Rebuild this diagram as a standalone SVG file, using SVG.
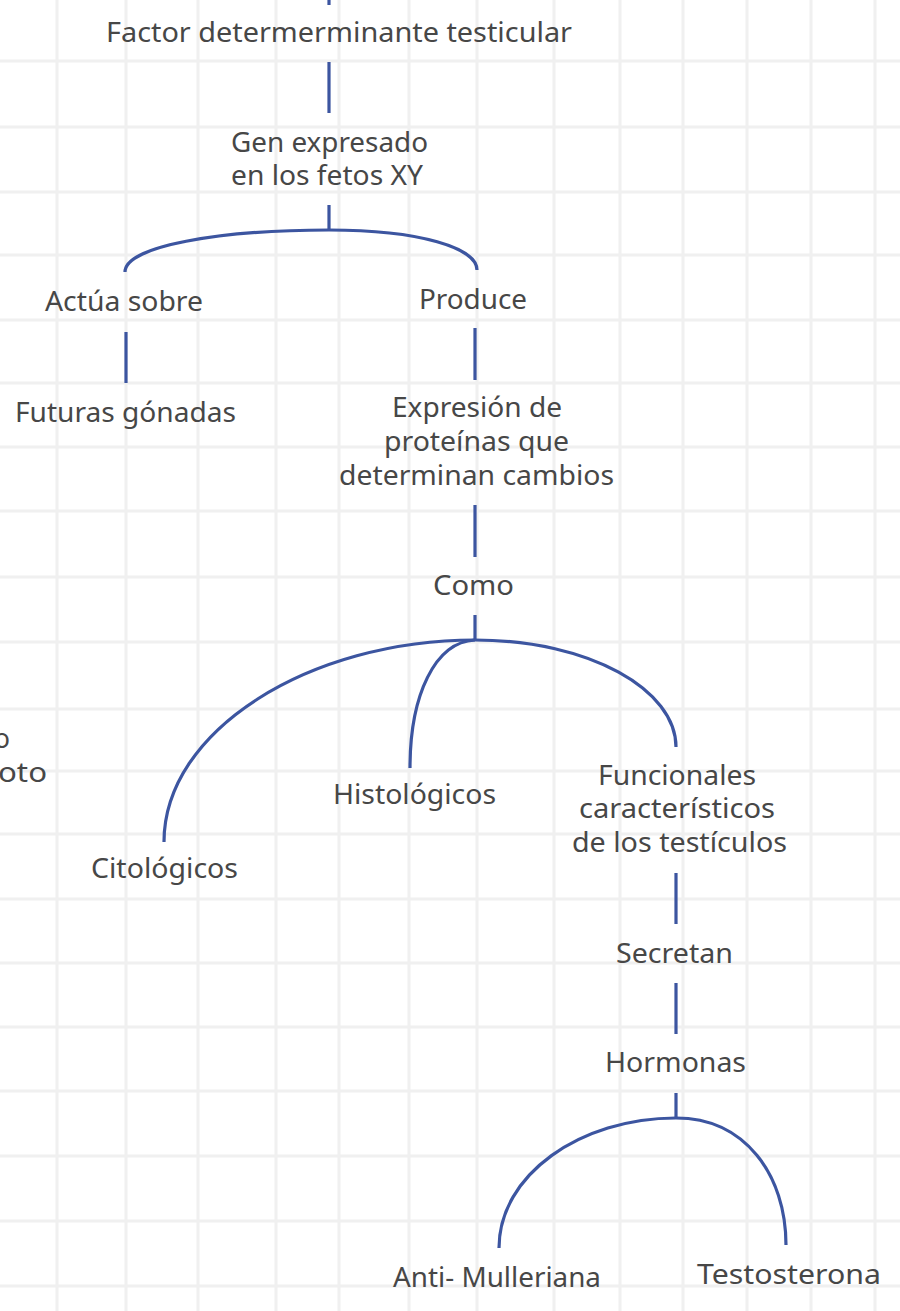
<svg xmlns="http://www.w3.org/2000/svg" width="900" height="1311" viewBox="0 0 900 1311">
<style>
.grid line{stroke:#f0f0f0;stroke-width:3}
.conn path{fill:none;stroke:#3c55a0;stroke-width:3.2}
text{font-family:"Noto Sans","Liberation Sans",sans-serif;font-size:27px;fill:#474747}
</style>
<rect width="900" height="1311" fill="#ffffff"/>
<g class="grid">
<line x1="57" y1="0" x2="57" y2="1311"/><line x1="126" y1="0" x2="126" y2="1311"/><line x1="198" y1="0" x2="198" y2="1311"/><line x1="276" y1="0" x2="276" y2="1311"/><line x1="339" y1="0" x2="339" y2="1311"/><line x1="409" y1="0" x2="409" y2="1311"/><line x1="477" y1="0" x2="477" y2="1311"/><line x1="554" y1="0" x2="554" y2="1311"/><line x1="620" y1="0" x2="620" y2="1311"/><line x1="683" y1="0" x2="683" y2="1311"/><line x1="747" y1="0" x2="747" y2="1311"/><line x1="811" y1="0" x2="811" y2="1311"/><line x1="875" y1="0" x2="875" y2="1311"/>
<line x1="0" y1="61" x2="900" y2="61"/><line x1="0" y1="127" x2="900" y2="127"/><line x1="0" y1="192" x2="900" y2="192"/><line x1="0" y1="255" x2="900" y2="255"/><line x1="0" y1="320" x2="900" y2="320"/><line x1="0" y1="383" x2="900" y2="383"/><line x1="0" y1="447" x2="900" y2="447"/><line x1="0" y1="511" x2="900" y2="511"/><line x1="0" y1="577" x2="900" y2="577"/><line x1="0" y1="642" x2="900" y2="642"/><line x1="0" y1="709" x2="900" y2="709"/><line x1="0" y1="771" x2="900" y2="771"/><line x1="0" y1="834" x2="900" y2="834"/><line x1="0" y1="899" x2="900" y2="899"/><line x1="0" y1="963" x2="900" y2="963"/><line x1="0" y1="1027" x2="900" y2="1027"/><line x1="0" y1="1091" x2="900" y2="1091"/><line x1="0" y1="1156" x2="900" y2="1156"/><line x1="0" y1="1221" x2="900" y2="1221"/><line x1="0" y1="1286" x2="900" y2="1286"/>
</g>
<g id="connectors" class="conn">
<path d="M329,0 V5"/>
<path d="M329,62 V113"/>
<path d="M329,205 V230"/>
<path d="M125,272 C125,246 220,230 329,230"/>
<path d="M329,230 C420,230 477,248 477,270"/>
<path d="M126,332 V383"/>
<path d="M475,328 V380"/>
<path d="M475,505 V557"/>
<path d="M475,615 V640"/>
<path d="M164,842 C164,730 310,640 475,640"/>
<path d="M475,640 C435,642 410,695 410,768"/>
<path d="M475,640 C590,640 676,690 676,747"/>
<path d="M676,873 V924"/>
<path d="M676,983 V1034"/>
<path d="M676,1093 V1118"/>
<path d="M499,1248 C499,1175 580,1118 676,1118"/>
<path d="M676,1118 C745,1118 786,1175 786,1245"/>
</g>
<g id="n-factor"><text x="106" y="42" textLength="466" lengthAdjust="spacingAndGlyphs">Factor determerminante testicular</text></g>
<g id="n-gen"><text x="231" y="152" textLength="197" lengthAdjust="spacingAndGlyphs">Gen expresado</text><text x="231" y="185" textLength="192" lengthAdjust="spacingAndGlyphs">en los fetos XY</text></g>
<g id="n-actua"><text x="45" y="311" textLength="158" lengthAdjust="spacingAndGlyphs">Actúa sobre</text></g>
<g id="n-produce"><text x="419" y="309" textLength="108" lengthAdjust="spacingAndGlyphs">Produce</text></g>
<g id="n-futuras"><text x="15" y="422" textLength="221" lengthAdjust="spacingAndGlyphs">Futuras gónadas</text></g>
<g id="n-expresion"><text x="392" y="417" textLength="170" lengthAdjust="spacingAndGlyphs">Expresión de</text><text x="384" y="451" textLength="185" lengthAdjust="spacingAndGlyphs">proteínas que</text><text x="339" y="485" textLength="275" lengthAdjust="spacingAndGlyphs">determinan cambios</text></g>
<g id="n-como"><text x="433" y="595" textLength="81" lengthAdjust="spacingAndGlyphs">Como</text></g>
<g id="n-partial"><text x="-6" y="748" textLength="16" lengthAdjust="spacingAndGlyphs">o</text><text x="-2" y="782" textLength="49" lengthAdjust="spacingAndGlyphs">oto</text></g>
<g id="n-citologicos"><text x="91" y="878" textLength="147" lengthAdjust="spacingAndGlyphs">Citológicos</text></g>
<g id="n-histologicos"><text x="333" y="804" textLength="163" lengthAdjust="spacingAndGlyphs">Histológicos</text></g>
<g id="n-funcionales"><text x="598" y="785" textLength="158" lengthAdjust="spacingAndGlyphs">Funcionales</text><text x="579" y="818" textLength="196" lengthAdjust="spacingAndGlyphs">característicos</text><text x="572" y="852" textLength="215" lengthAdjust="spacingAndGlyphs">de los testículos</text></g>
<g id="n-secretan"><text x="616" y="963" textLength="117" lengthAdjust="spacingAndGlyphs">Secretan</text></g>
<g id="n-hormonas"><text x="605" y="1072" textLength="141" lengthAdjust="spacingAndGlyphs">Hormonas</text></g>
<g id="n-anti"><text x="393" y="1287" textLength="208" lengthAdjust="spacingAndGlyphs">Anti- Mulleriana</text></g>
<g id="n-testosterona"><text x="697" y="1284" textLength="184" lengthAdjust="spacingAndGlyphs">Testosterona</text></g>
</svg>
